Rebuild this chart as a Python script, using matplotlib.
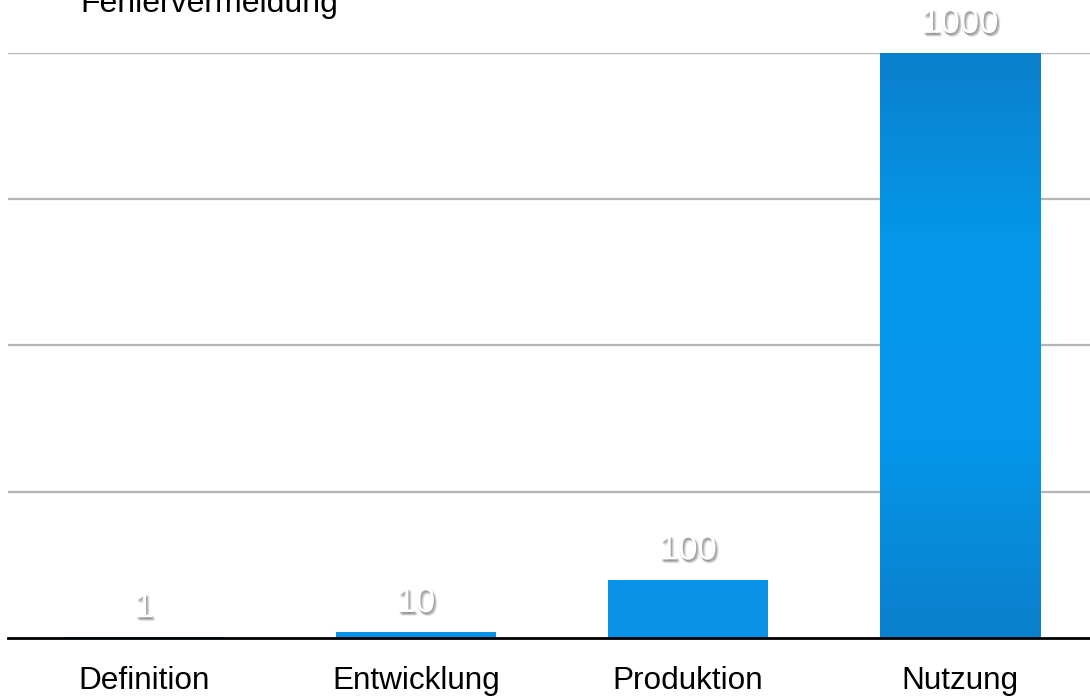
import numpy as np
import matplotlib
matplotlib.use("Agg")
import matplotlib.pyplot as plt
import matplotlib.patheffects as pe
from matplotlib.colors import LinearSegmentedColormap

categories = ["Definition", "Entwicklung", "Produktion", "Nutzung"]
values = [1, 10, 100, 1000]
value_labels = ["1", "10", "100", "1000"]
title = "Fehlervermeidung"

plt.rcParams['font.family'] = ['Liberation Sans', 'DejaVu Sans']

fig = plt.figure(figsize=(10.9, 6.97), dpi=100)
W, H = 1090, 697
ax = fig.add_axes([8 / W, (H - 638) / H, 1088 / W, 585 / H])
ax.set_xlim(-0.5, 3.5)
ax.set_ylim(0, 1000)

x = np.arange(len(categories))
bw = 0.59
bars = ax.bar(x, values, width=bw, color='#0893e6', zorder=2)

cmap = LinearSegmentedColormap.from_list(
    "barg", ["#0a80cb", "#0596e9", "#0598ea", "#0a80cb"])
grad = np.linspace(0, 1, 256).reshape(-1, 1)
for b in bars:
    x0, y0 = b.get_x(), b.get_y()
    w, h = b.get_width(), b.get_height()
    if h < 200:
        continue
    im = ax.imshow(grad, cmap=cmap, aspect='auto',
                   extent=[x0, x0 + w, y0, y0 + h], origin='lower', zorder=2.1)
    im.set_clip_path(b)

shadow = []
for dx, dy, a in [(0.5, -1.0, 0.18), (1.0, -1.5, 0.18), (1.5, -2.2, 0.15),
                  (2.0, -2.8, 0.10), (0.0, -2.0, 0.08), (2.5, -1.5, 0.08)]:
    shadow.append(pe.SimplePatchShadow(offset=(dx, dy), shadow_rgbFace='#404040', alpha=a))
shadow.append(pe.Normal())

for xi, v, lab in zip(x, values, value_labels):
    ax.annotate(lab, (xi, v), xytext=(0, 9.5), textcoords='offset points',
                ha='center', va='bottom', fontsize=25, color='white', zorder=5,
                path_effects=shadow, annotation_clip=False)

ax.set_yticks([250, 500, 750, 1000])
ax.yaxis.grid(True, color='#b4b4b4', linewidth=1.6, zorder=0)
ax.set_axisbelow(True)
ax.tick_params(axis='y', left=False, labelleft=False)
ax.set_xticks(x)
ax.set_xticklabels(categories, fontsize=22.7)
ax.tick_params(axis='x', bottom=False, pad=17, colors='black')
for s in ['top', 'right', 'left']:
    ax.spines[s].set_visible(False)
ax.spines['bottom'].set_linewidth(2)
ax.spines['bottom'].set_color('black')
ax.spines['bottom'].set_zorder(3)

fig.text(80 / W, 1 - 12 / H, title, fontsize=23, ha='left', va='baseline')

fig.savefig("out.png", dpi=100)
